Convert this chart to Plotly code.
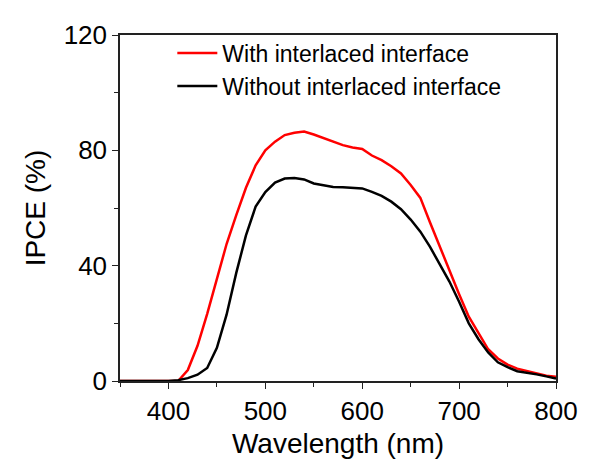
import plotly.graph_objects as go

wavelength = list(range(350, 801, 10))
ipce_with = [0, 0, 0, 0, 0, 0, 0.0, 3.8, 12.2, 23.3, 35.5, 47.5, 57.5, 67.0, 74.8, 80.0,
             83.0, 85.3, 86.1, 86.5, 85.5, 84.2, 83.0, 81.8, 81.0, 80.5, 78.2, 76.6, 74.5,
             72.0, 68.0, 63.5, 55.0, 46.5, 38.5, 30.1, 22.3, 16.8, 11.0, 7.8, 5.7, 4.3,
             3.5, 2.8, 1.8, 1.5]
ipce_without = [0, 0, 0, 0, 0, 0, 0.3, 1.0, 2.2, 4.5, 11.5, 23.0, 37.5, 50.5, 60.5, 65.5,
                68.8, 70.2, 70.4, 69.9, 68.5, 67.8, 67.3, 67.2, 67.0, 66.8, 65.6, 64.2, 62.2,
                59.6, 56.0, 51.8, 46.5, 40.7, 34.5, 27.5, 20.0, 14.5, 9.9, 6.5, 4.8, 3.4,
                2.9, 2.3, 1.6, 0.9]
series_names = ["With interlaced interface", "Without interlaced interface"]
series_colors = ["#ff0000", "#000000"]
x_ticks = [400, 500, 600, 700, 800]
y_ticks = [0, 40, 80, 120]

font_family = "Arial, Liberation Sans, sans-serif"

fig = go.Figure()
for name, vals, col in zip(series_names, [ipce_with, ipce_without], series_colors):
    fig.add_trace(go.Scatter(x=wavelength, y=vals, mode="lines", name=name,
                             line=dict(color=col, width=2.5)))

axis_common = dict(
    showline=True, linecolor="#222222", linewidth=1.5, mirror=True,
    ticks="outside", ticklen=6, tickwidth=1.2, tickcolor="#222222",
    showgrid=False, zeroline=False,
    tickfont=dict(family=font_family, size=26, color="black"),
    minor=dict(ticks="outside", ticklen=4, tickwidth=1.2, tickcolor="#222222"),
)

fig.update_xaxes(range=[350, 800], tickvals=x_ticks, title=dict(text="Wavelength (nm)",
                 font=dict(family=font_family, size=28, color="black"), standoff=8),
                 **axis_common)
fig.update_xaxes(minor=dict(dtick=50, tick0=350))
fig.update_yaxes(range=[0, 120], tickvals=y_ticks, title=dict(text="IPCE (%)",
                 font=dict(family=font_family, size=28, color="black"), standoff=10),
                 **axis_common)
fig.update_yaxes(minor=dict(dtick=20, tick0=0))

fig.update_layout(
    width=582, height=458,
    margin=dict(l=112, r=28, t=20, b=84),
    paper_bgcolor="white", plot_bgcolor="white",
    font=dict(family=font_family, color="black"),
    legend=dict(x=0.12, y=1.01, xanchor="left", yanchor="top",
                font=dict(family=font_family, size=23, color="black"),
                bgcolor="rgba(0,0,0,0)", tracegroupgap=0, itemwidth=40),
    showlegend=True,
)

fig.write_html("out.html")
